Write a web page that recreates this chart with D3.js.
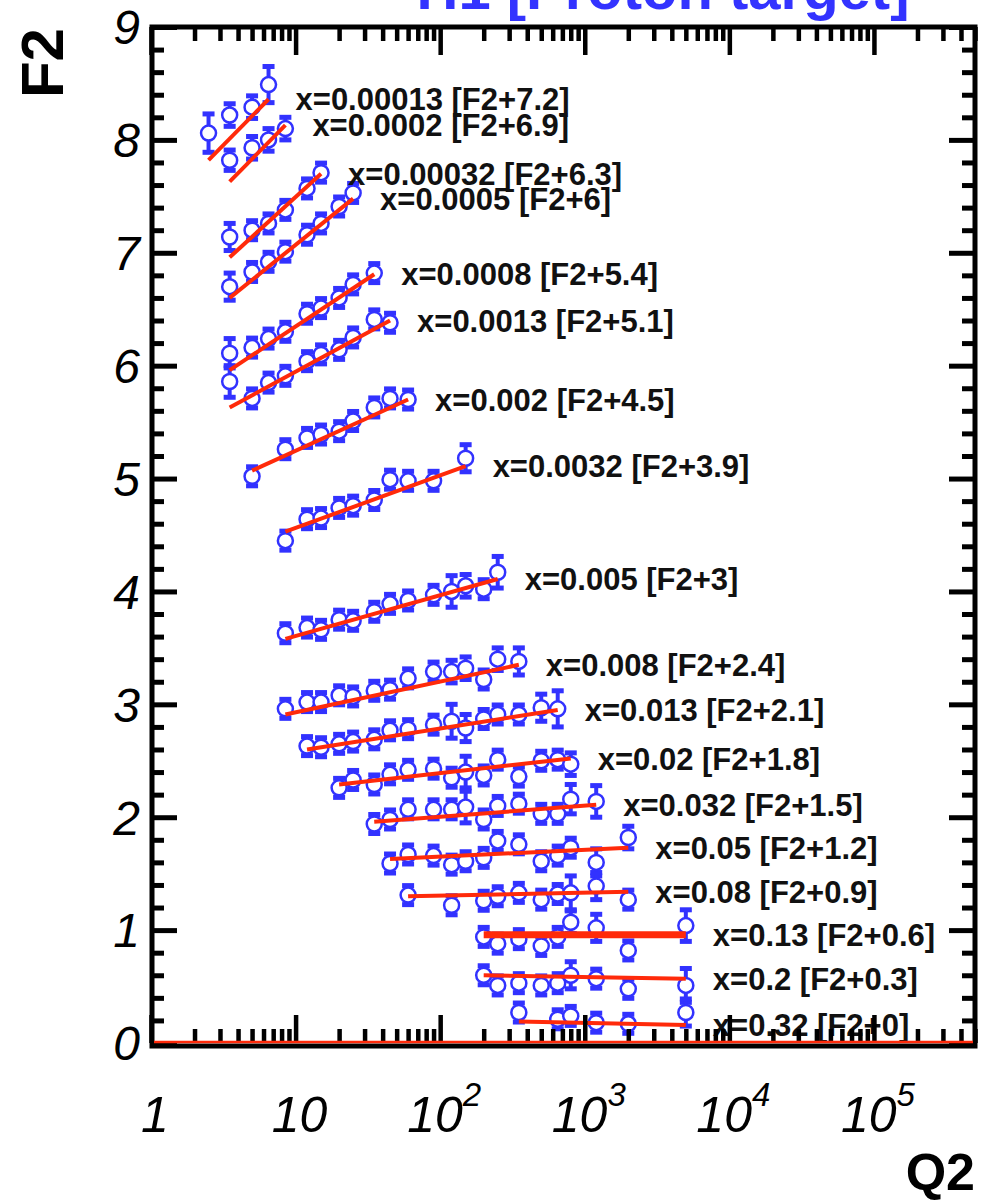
<!DOCTYPE html>
<html>
<head>
<meta charset="utf-8">
<script src="https://cdn.jsdelivr.net/npm/d3@7"></script>
<style>
  body { margin: 0; background: #fff; }
  svg { display: block; }
</style>
</head>
<body>
<script>
// Bjorken-x bins and the vertical shift added to each bin's F2
const xValues = [0.00013, 0.0002, 0.00032, 0.0005, 0.0008, 0.0013, 0.002, 0.0032, 0.005,
                 0.008, 0.013, 0.02, 0.032, 0.05, 0.08, 0.13, 0.2, 0.32];
const shifts  = [7.2, 6.9, 6.3, 6, 5.4, 5.1, 4.5, 3.9, 3, 2.4, 2.1, 1.8, 1.5, 1.2, 0.9, 0.6, 0.3, 0];

// Measured points per x bin: Q2 (GeV^2), F2 (unshifted), error
const q2Values = [
  [2.5, 3.5, 5, 6.5],
  [3.5, 5, 6.5, 8.5],
  [3.5, 5, 6.5, 8.5, 12, 15],
  [3.5, 5, 6.5, 8.5, 12, 15, 20, 25],
  [3.5, 5, 6.5, 8.5, 12, 15, 20, 25, 35],
  [3.5, 5, 6.5, 8.5, 12, 15, 20, 25, 35, 45],
  [5, 8.5, 12, 15, 20, 25, 35, 45, 60],
  [8.5, 12, 15, 20, 25, 35, 45, 60, 90, 150],
  [8.5, 12, 15, 20, 25, 35, 45, 60, 90, 120, 150, 200, 250],
  [8.5, 12, 15, 20, 25, 35, 45, 60, 90, 120, 150, 200, 250, 350],
  [12, 15, 20, 25, 35, 45, 60, 90, 120, 150, 200, 250, 350, 500, 650],
  [20, 25, 35, 45, 60, 90, 120, 150, 200, 250, 350, 500, 650, 800],
  [35, 45, 60, 90, 120, 150, 200, 250, 350, 500, 650, 800, 1200],
  [45, 60, 90, 120, 150, 200, 250, 350, 500, 650, 800, 1200, 2000],
  [60, 120, 200, 250, 350, 500, 650, 800, 1200, 2000],
  [200, 250, 350, 500, 650, 800, 1200, 2000, 5000],
  [200, 250, 350, 500, 650, 800, 1200, 2000, 5000],
  [350, 650, 800, 1200, 2000, 5000]
];
const f2Values = [
  [0.86, 1.02, 1.09, 1.29],
  [0.92, 1.03, 1.10, 1.20],
  [0.84, 0.90, 0.96, 1.08, 1.27, 1.41],
  [0.70, 0.83, 0.92, 1.01, 1.16, 1.26, 1.41, 1.53],
  [0.71, 0.76, 0.84, 0.90, 1.06, 1.11, 1.20, 1.32, 1.42],
  [0.76, 0.61, 0.75, 0.81, 0.94, 1.00, 1.04, 1.15, 1.31, 1.28],
  [0.52, 0.76, 0.86, 0.89, 0.92, 1.01, 1.13, 1.21, 1.20],
  [0.55, 0.74, 0.75, 0.84, 0.86, 0.91, 1.09, 1.08, 1.08, 1.28],
  [0.63, 0.68, 0.66, 0.75, 0.74, 0.82, 0.89, 0.92, 0.97, 1.00, 1.05, 1.02, 1.17],
  [0.56, 0.62, 0.62, 0.68, 0.67, 0.72, 0.73, 0.83, 0.89, 0.89, 0.92, 0.82, 1.00, 0.98],
  [0.53, 0.52, 0.55, 0.57, 0.59, 0.67, 0.68, 0.72, 0.75, 0.69, 0.77, 0.81, 0.81, 0.87, 0.86],
  [0.46, 0.53, 0.49, 0.58, 0.62, 0.63, 0.55, 0.60, 0.57, 0.71, 0.56, 0.70, 0.71, 0.67],
  [0.44, 0.48, 0.57, 0.57, 0.57, 0.59, 0.48, 0.60, 0.62, 0.53, 0.53, 0.66, 0.64],
  [0.39, 0.47, 0.46, 0.38, 0.41, 0.44, 0.59, 0.56, 0.41, 0.46, 0.53, 0.40, 0.62],
  [0.41, 0.32, 0.36, 0.40, 0.43, 0.37, 0.42, 0.43, 0.49, 0.37],
  [0.34, 0.28, 0.32, 0.26, 0.34, 0.47, 0.42, 0.22, 0.44],
  [0.30, 0.21, 0.23, 0.21, 0.23, 0.30, 0.27, 0.18, 0.21],
  [0.27, 0.21, 0.24, 0.18, 0.17, 0.27]
];
const f2Errors = [
  [0.17, 0.10, 0.10, 0.16],
  [0.09, 0.10, 0.10, 0.10],
  [0.12, 0.08, 0.08, 0.08, 0.07, 0.07],
  [0.12, 0.08, 0.08, 0.07, 0.07, 0.07, 0.07, 0.07],
  [0.13, 0.08, 0.07, 0.06, 0.06, 0.06, 0.06, 0.06, 0.05],
  [0.14, 0.06, 0.06, 0.06, 0.05, 0.05, 0.05, 0.05, 0.05, 0.05],
  [0.05, 0.05, 0.05, 0.05, 0.05, 0.05, 0.05, 0.05, 0.05],
  [0.05, 0.05, 0.05, 0.05, 0.05, 0.05, 0.06, 0.06, 0.07, 0.12],
  [0.05, 0.04, 0.04, 0.04, 0.04, 0.04, 0.04, 0.04, 0.05, 0.14, 0.10, 0.07, 0.14],
  [0.05, 0.05, 0.04, 0.04, 0.04, 0.04, 0.04, 0.05, 0.05, 0.10, 0.10, 0.06, 0.10, 0.12],
  [0.04, 0.04, 0.04, 0.04, 0.04, 0.04, 0.04, 0.05, 0.15, 0.12, 0.06, 0.06, 0.06, 0.12, 0.16],
  [0.04, 0.04, 0.04, 0.04, 0.04, 0.04, 0.08, 0.14, 0.05, 0.07, 0.05, 0.08, 0.08, 0.10],
  [0.04, 0.04, 0.04, 0.04, 0.08, 0.14, 0.05, 0.06, 0.06, 0.06, 0.06, 0.13, 0.14],
  [0.04, 0.04, 0.04, 0.05, 0.06, 0.04, 0.05, 0.05, 0.05, 0.05, 0.06, 0.12, 0.10],
  [0.04, 0.04, 0.05, 0.05, 0.05, 0.05, 0.05, 0.15, 0.12, 0.05],
  [0.04, 0.04, 0.04, 0.05, 0.05, 0.10, 0.12, 0.05, 0.14],
  [0.04, 0.04, 0.04, 0.04, 0.04, 0.12, 0.06, 0.04, 0.15],
  [0.06, 0.08, 0.07, 0.05, 0.04, 0.12]
];

// QCD fit per x bin: Q2 range and unshifted F2 at both ends
const fitQ2 = [
  [2.5, 6.5], [3.5, 8.5], [3.5, 15], [3.5, 25], [3.5, 35], [3.5, 45], [5, 60], [8.5, 150],
  [8.5, 250], [8.5, 350], [12, 650], [20, 800], [35, 1200], [45, 2000], [60, 2000],
  [200, 5000], [200, 5000], [350, 5000]
];
const fitF2 = [
  [0.62, 1.16], [0.73, 1.23], [0.66, 1.40], [0.60, 1.48], [0.56, 1.41], [0.53, 1.30],
  [0.57, 1.20], [0.63, 1.21], [0.58, 1.11], [0.51, 0.95], [0.50, 0.85], [0.49, 0.72],
  [0.46, 0.61], [0.43, 0.53], [0.40, 0.44], [0.36, 0.36], [0.30, 0.27], [0.19, 0.16]
];

// Axis ticks
const yTickValues = [0, 1, 2, 3, 4, 5, 6, 7, 8, 9];
const xTickExponents = [0, 1, 2, 3, 4, 5];

const W = 986, H = 1201;
const BLUE = "#3232ff", RED = "#ff2a0a";

const svg = d3.select("body").append("svg")
  .attr("width", W).attr("height", H)
  .attr("viewBox", `0 0 ${W} ${H}`);

const x = d3.scaleLog().domain([1, 5e5]).range([151, 975]);
const y = d3.scaleLinear().domain([0, 9]).range([1043, 27]);

const plotLeft = x.range()[0], plotRight = x.range()[1];
const plotTop = y.range()[1], plotBottom = y.range()[0];

// Title (runs off the top edge)
svg.append("text")
  .attr("x", 663).attr("y", 9)
  .attr("text-anchor", "middle")
  .attr("font-family", "Liberation Sans, Arial, sans-serif")
  .attr("font-weight", "bold")
  .attr("font-size", 58)
  .attr("fill", "#3333ff")
  .text("H1 [Proton target]");

const series = xValues.map((xv, i) => ({
  xv, shift: shifts[i],
  points: q2Values[i].map((q, j) => ({ q, f: f2Values[i][j] + shifts[i], e: f2Errors[i][j] })),
  fit: fitQ2[i].map((q, j) => ({ q, f: fitF2[i][j] + shifts[i] })),
  thick: xv === 0.13
}));

const dataG = svg.append("g");
const R = 7.5;

// Error bars with end caps
series.forEach(s => {
  const g = dataG.append("g");
  s.points.forEach(p => {
    const cx = x(p.q), cy = y(p.f);
    const up = Math.max(cy - y(p.f + p.e), R + 2);
    const dn = Math.max(y(p.f - p.e) - cy, R + 2);
    g.append("line")
      .attr("x1", cx).attr("x2", cx)
      .attr("y1", cy - up).attr("y2", cy + dn)
      .attr("stroke", BLUE).attr("stroke-width", 4);
    [cy - up, cy + dn].forEach(yy => {
      g.append("rect")
        .attr("x", cx - 6).attr("y", yy - 2.5)
        .attr("width", 12).attr("height", 5)
        .attr("fill", BLUE);
    });
  });
});

// Open circle markers
series.forEach(s => {
  dataG.append("g").selectAll("circle")
    .data(s.points).join("circle")
    .attr("cx", d => x(d.q)).attr("cy", d => y(d.f)).attr("r", R)
    .attr("fill", "#fff").attr("stroke", BLUE).attr("stroke-width", 2.5);
});

// Fit lines
const line = d3.line().x(d => x(d.q)).y(d => y(d.f));
series.forEach(s => {
  dataG.append("path")
    .attr("d", line(s.fit))
    .attr("fill", "none")
    .attr("stroke", RED)
    .attr("stroke-width", s.thick ? 7 : 4);
});

// Bin labels at the end of each fit
series.forEach(s => {
  const end = s.fit[s.fit.length - 1];
  svg.append("text")
    .attr("x", x(end.q) + 27).attr("y", y(end.f))
    .attr("dy", "0.36em")
    .attr("font-family", "Liberation Sans, Arial, sans-serif")
    .attr("font-weight", "bold")
    .attr("font-size", 31)
    .attr("fill", "#111")
    .text(`x=${s.xv} [F2+${s.shift}]`);
});

// Ticks (pointing inward on all four sides)
const majorX = xTickExponents.map(e => Math.pow(10, e));
const minorX = [];
xTickExponents.forEach(e => d3.range(2, 10).forEach(k => {
  const v = k * Math.pow(10, e);
  if (v <= 5e5) minorX.push(v);
}));
const majorY = yTickValues;
const minorY = d3.range(0, 9.001, 0.2).filter(v => Math.abs(v - Math.round(v)) > 1e-6);

function styleAxis(g, w) {
  g.select(".domain").remove();
  g.selectAll(".tick line").attr("stroke", "#000").attr("stroke-width", w);
  g.selectAll(".tick text").remove();
}
const axG = svg.append("g");
axG.append("g").attr("transform", `translate(0,${plotBottom})`)
  .call(d3.axisBottom(x).tickValues(majorX).tickSize(-28).tickFormat(""))
  .call(g => styleAxis(g, 4.5));
axG.append("g").attr("transform", `translate(0,${plotBottom})`)
  .call(d3.axisBottom(x).tickValues(minorX).tickSize(-14).tickFormat(""))
  .call(g => styleAxis(g, 4.5));
axG.append("g").attr("transform", `translate(0,${plotTop})`)
  .call(d3.axisTop(x).tickValues(majorX).tickSize(-28).tickFormat(""))
  .call(g => styleAxis(g, 4.5));
axG.append("g").attr("transform", `translate(0,${plotTop})`)
  .call(d3.axisTop(x).tickValues(minorX).tickSize(-14).tickFormat(""))
  .call(g => styleAxis(g, 4.5));
axG.append("g").attr("transform", `translate(${plotLeft},0)`)
  .call(d3.axisLeft(y).tickValues(majorY).tickSize(-26).tickFormat(""))
  .call(g => styleAxis(g, 5));
axG.append("g").attr("transform", `translate(${plotLeft},0)`)
  .call(d3.axisLeft(y).tickValues(minorY).tickSize(-13).tickFormat(""))
  .call(g => styleAxis(g, 5));
axG.append("g").attr("transform", `translate(${plotRight},0)`)
  .call(d3.axisRight(y).tickValues(majorY).tickSize(-26).tickFormat(""))
  .call(g => styleAxis(g, 5));
axG.append("g").attr("transform", `translate(${plotRight},0)`)
  .call(d3.axisRight(y).tickValues(minorY).tickSize(-13).tickFormat(""))
  .call(g => styleAxis(g, 5));

// Frame
svg.append("rect")
  .attr("x", plotLeft + 1).attr("y", plotTop)
  .attr("width", plotRight - plotLeft - 1).attr("height", plotBottom - plotTop + 3)
  .attr("fill", "none").attr("stroke", "#000").attr("stroke-width", 5);

// Zero line
svg.append("line")
  .attr("x1", plotLeft + 3).attr("x2", plotRight - 2)
  .attr("y1", y(0) - 1).attr("y2", y(0) - 1)
  .attr("stroke", RED).attr("stroke-width", 2.5);

// Y tick labels
svg.append("g").selectAll("text")
  .data(yTickValues).join("text")
  .attr("x", 140).attr("y", d => y(d))
  .attr("dy", "0.36em")
  .attr("text-anchor", "end")
  .attr("font-family", "Liberation Sans, Arial, sans-serif")
  .attr("font-style", "italic")
  .attr("font-size", 48)
  .attr("fill", "#000")
  .text(d => d);

// X tick labels: 1, 10, 10^2 ... 10^5
const xl = svg.append("g").selectAll("text")
  .data(xTickExponents).join("text")
  .attr("x", d => x(Math.pow(10, d)) + 4).attr("y", 1132)
  .attr("text-anchor", "middle")
  .attr("font-family", "Liberation Sans, Arial, sans-serif")
  .attr("font-style", "italic")
  .attr("font-size", 50)
  .attr("fill", "#000");
xl.each(function(d) {
  const t = d3.select(this);
  if (d === 0) t.text("1");
  else if (d === 1) t.text("10");
  else {
    t.append("tspan").text("10");
    t.append("tspan").attr("font-size", 33).attr("dy", -26).text(d);
  }
});

// Axis titles
svg.append("text")
  .attr("transform", "translate(63,28) rotate(-90)")
  .attr("text-anchor", "end")
  .attr("font-family", "Liberation Sans, Arial, sans-serif")
  .attr("font-weight", "bold")
  .attr("font-size", 60)
  .attr("fill", "#000")
  .text("F2");

svg.append("text")
  .attr("x", 975).attr("y", 1190)
  .attr("text-anchor", "end")
  .attr("font-family", "Liberation Sans, Arial, sans-serif")
  .attr("font-weight", "bold")
  .attr("font-size", 52)
  .attr("fill", "#000")
  .text("Q2");
</script>
</body>
</html>
